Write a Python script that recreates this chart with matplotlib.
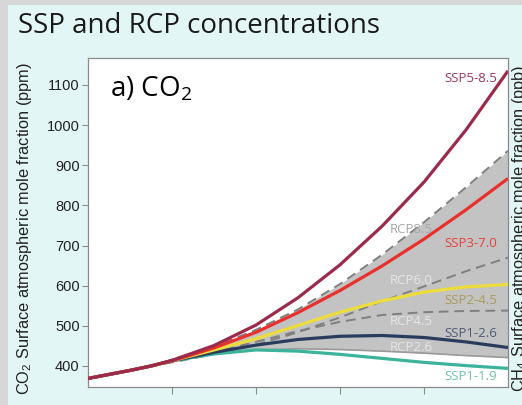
import numpy as np
import matplotlib
matplotlib.use("Agg")
import matplotlib.pyplot as plt
from matplotlib.patches import Rectangle

# === Data (CO2, ppm) ===
years = [2000, 2005, 2010, 2015, 2020, 2030, 2040, 2050, 2060, 2070, 2080, 2090, 2100]

ssp119 = [369, 379, 389, 400, 413, 430, 440, 437, 429, 419, 409, 401, 394]
ssp126 = [369, 379, 389, 400, 413, 434, 452, 466, 474, 476, 471, 460, 446]
ssp245 = [369, 379, 389, 400, 413, 440, 468, 501, 534, 562, 584, 597, 603]
ssp370 = [369, 379, 389, 400, 413, 445, 484, 533, 588, 649, 716, 789, 867]
ssp585 = [369, 379, 389, 400, 414, 451, 502, 570, 652, 748, 858, 988, 1135]

rcp26 = [369, 379, 389, 400, 412, 431, 440, 443, 441, 437, 432, 426, 421]
rcp45 = [369, 379, 389, 399, 412, 435, 460, 487, 510, 527, 534, 537, 538]
rcp60 = [369, 379, 389, 399, 409, 429, 453, 484, 521, 561, 598, 636, 670]
rcp85 = [369, 379, 389, 400, 416, 449, 490, 541, 604, 677, 758, 845, 936]

ssp_names = ["SSP5-8.5", "SSP3-7.0", "SSP2-4.5", "SSP1-2.6", "SSP1-1.9"]
rcp_names = ["RCP8.5", "RCP6.0", "RCP4.5", "RCP2.6"]

# === Figure ===
W, H = 522, 405
fig = plt.figure(figsize=(W / 100, H / 100), dpi=100)
fig.patch.set_facecolor("#d7d7d7")
fig.patches.append(Rectangle((8 / W, 0), 1, 1 - 5 / H, transform=fig.transFigure,
                             facecolor="#e3f6f6", edgecolor="none", zorder=-10))

ax = fig.add_axes([88 / W, 1 - 387 / H, 420 / W, 329 / H])
ax.set_facecolor("white")
ax.set_xlim(2000, 2100)
ax.set_ylim(347.7, 1167)

# gray band between RCP2.6 and RCP8.5
ax.fill_between(years[1:], rcp26[1:], rcp85[1:], color="#c3c3c3", lw=0, zorder=1)
ax.plot(years, rcp26, color="#9a9a9a", lw=1.2, zorder=2)
for r in [rcp85, rcp60, rcp45]:
    ax.plot(years, r, color="#7f7f7f", lw=1.4, ls=(0, (5, 3)), zorder=3)

ssp_colors = {"SSP1-1.9": "#3cb39a", "SSP1-2.6": "#2a3c5e", "SSP2-4.5": "#ecdc3c",
              "SSP3-7.0": "#e8302c", "SSP5-8.5": "#9b2a4b"}
for name, vals in [("SSP1-1.9", ssp119), ("SSP1-2.6", ssp126), ("SSP2-4.5", ssp245),
                   ("SSP3-7.0", ssp370), ("SSP5-8.5", ssp585)]:
    ax.plot(years, vals, color=ssp_colors[name], lw=2.3, zorder=4,
            solid_capstyle="butt")

# labels (x in data coords, y in data coords)
lab_font = ["Open Sans", "DejaVu Sans"]
ssp_lab_col = ["#a0385a", "#e8403a", "#a89c58", "#4f5a72", "#6cc2ad"]
ssp_lab_y = [1117, 706, 564, 482, 373]
for name, col, yv in zip(ssp_names, ssp_lab_col, ssp_lab_y):
    ax.text(2097.5, yv, name, color=col, fontsize=9.5, family=lab_font,
            ha="right", va="center", zorder=5)
rcp_lab_col = ["#a8a8a8", "#e6e6e6", "#e6e6e6", "#e6e6e6"]
rcp_lab_y = [739, 614, 510, 445]
for name, col, yv in zip(rcp_names, rcp_lab_col, rcp_lab_y):
    ax.text(2077, yv, name, color=col, fontsize=9.5, family=lab_font,
            ha="center", va="center", zorder=5)

ax.text(0.052, 0.905, "a) CO$_\\mathregular{2}$", transform=ax.transAxes, fontsize=20,
        family=lab_font, ha="left", va="center")

for s in ax.spines.values():
    s.set_color("#8a8a8a")
    s.set_linewidth(0.9)
ax.set_yticks([400, 500, 600, 700, 800, 900, 1000, 1100])
ax.set_xticks([2020, 2040, 2060, 2080])
ax.tick_params(axis="y", direction="out", length=4, color="#8a8a8a", labelsize=10.5,
               pad=2, labelcolor="#222222")
ax.tick_params(axis="x", direction="out", length=5, color="#8a8a8a", labelbottom=False)
for t in ax.get_yticklabels():
    t.set_family(["Liberation Sans", "DejaVu Sans"])

ax.set_ylabel("CO$_\\mathregular{2}$ Surface atmospheric mole fraction (ppm)",
              fontsize=11.8, family=["Liberation Sans", "DejaVu Sans"], color="#222222")
ax.yaxis.set_label_coords(-0.128, 0.483)

fig.text(18 / W, 1 - 26 / H, "SSP and RCP concentrations", fontsize=20,
         family=lab_font, ha="left", va="center", color="#1a1a1a")
# right-hand label of the neighbouring panel, cut by the picture edge as in the source
fig.text(510 / W, 1 - 228 / H, "CH$_\\mathregular{4}$ Surface atmospheric mole fraction (ppb)",
         fontsize=11.8, family=["Liberation Sans", "DejaVu Sans"], rotation=90,
         ha="left", va="center", color="#222222")

fig.savefig("out.png", dpi=100, facecolor=fig.get_facecolor())
